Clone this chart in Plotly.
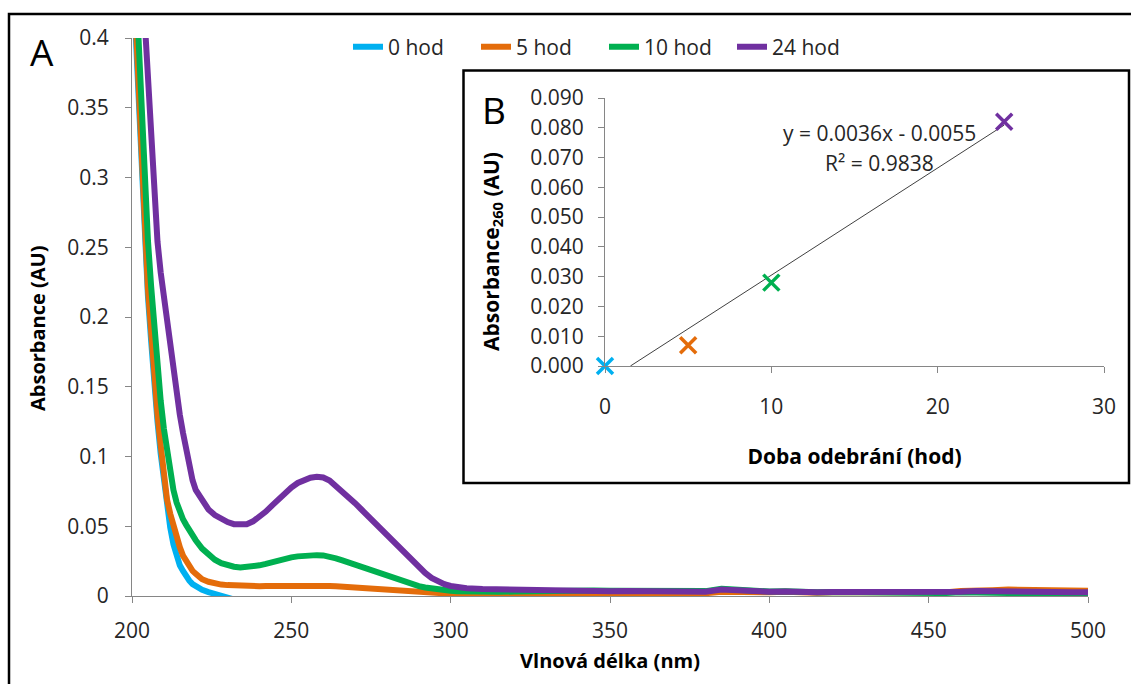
import plotly.graph_objects as go

# ---------------- data ----------------
WAVELENGTH = [
    200, 201, 202, 203, 204, 205, 206, 207, 208, 209,
    210, 211, 212, 213, 214, 215, 216, 217, 218, 219,
    220, 222, 224, 226, 228, 230, 232, 234, 236, 238,
    240, 242, 244, 246, 248, 250, 252, 254, 256, 258,
    260, 262, 264, 266, 268, 270, 272, 274, 276, 278,
    280, 282, 284, 286, 288, 290, 292, 294, 296, 298,
    300, 302, 305, 310, 315, 320, 325, 330, 335, 340,
    345, 350, 355, 360, 365, 370, 375, 380, 385, 390,
    395, 400, 405, 410, 415, 420, 425, 430, 435, 440,
    445, 450, 455, 460, 465, 470, 475, 480, 485, 490,
    495, 500,
]

ABS_0H = [
    0.46, 0.41, 0.35, 0.295, 0.255, 0.215, 0.183, 0.150, 0.125, 0.102,
    0.082, 0.064, 0.049, 0.037, 0.028, 0.022, 0.018, 0.014, 0.011, 0.0085,
    0.0068, 0.0045, 0.0028, 0.0012, -0.0003, -0.0015, -0.0025, -0.0032, -0.0035, -0.0036,
    -0.0036, -0.0035, -0.0036, -0.0037, -0.0036, -0.0035, -0.0036, -0.0036, -0.0035, -0.0036,
    -0.0036, -0.0037, -0.0035, -0.0036, -0.0037, -0.0036, -0.0035, -0.0036, -0.0037, -0.0036,
    -0.0036, -0.0037, -0.0035, -0.0036, -0.0037, -0.0036, -0.0035, -0.0036, -0.0037, -0.0036,
    -0.0036, -0.0037, -0.0035, -0.0036, -0.0037, -0.0036, -0.0035, -0.0036, -0.0037, -0.0036,
    -0.0036, -0.0037, -0.0035, -0.0036, -0.0037, -0.0036, -0.0035, -0.0036, -0.0037, -0.0036,
    -0.0036, -0.0037, -0.0035, -0.0036, -0.0037, -0.0036, -0.0035, -0.0036, -0.0037, -0.0036,
    -0.0036, -0.0037, -0.0035, -0.0036, -0.0037, -0.0036, -0.0035, -0.0036, -0.0037, -0.0036,
    -0.0036, -0.0036,
]

ABS_5H = [
    0.47, 0.42, 0.35, 0.30, 0.26, 0.22, 0.19, 0.155, 0.13, 0.108,
    0.084, 0.069, 0.059, 0.050, 0.042, 0.035, 0.029, 0.025, 0.021, 0.018,
    0.016, 0.012, 0.0102, 0.009, 0.0082, 0.0078, 0.0075, 0.0073, 0.0071, 0.0070,
    0.0070, 0.0071, 0.0072, 0.0073, 0.0074, 0.0075, 0.0075, 0.0076, 0.0076, 0.0075,
    0.0074, 0.0072, 0.0070, 0.0067, 0.0064, 0.0060, 0.0056, 0.0052, 0.0048, 0.0044,
    0.0040, 0.0036, 0.0032, 0.0029, 0.0026, 0.0023, 0.0020, 0.0018, 0.0016, 0.0015,
    0.0014, 0.0013, 0.0012, 0.0012, 0.0013, 0.0015, 0.0012, 0.0014, 0.0016, 0.0018,
    0.0017, 0.0020, 0.0019, 0.0021, 0.0018, 0.0022, 0.0024, 0.0020, 0.0030, 0.0027,
    0.0025, 0.0026, 0.0030, 0.0024, 0.0023, 0.0026, 0.0025, 0.0024, 0.0028, 0.0027,
    0.0028, 0.0030, 0.0026, 0.0036, 0.0044, 0.0042, 0.0046, 0.0044, 0.0042, 0.0046,
    0.0040, 0.0038,
]

ABS_10H = [
    0.50, 0.45, 0.40, 0.35, 0.29, 0.255, 0.222, 0.19, 0.164, 0.14,
    0.12, 0.103, 0.088, 0.076, 0.067, 0.060, 0.055, 0.051, 0.047, 0.043,
    0.040, 0.034, 0.0295, 0.026, 0.0235, 0.022, 0.021, 0.0205, 0.0207, 0.0213,
    0.022, 0.023, 0.0243, 0.0255, 0.0267, 0.0277, 0.0284, 0.0289, 0.0292, 0.0293,
    0.0291, 0.0285, 0.027, 0.0255, 0.024, 0.0222, 0.0205, 0.0188, 0.0172, 0.0157,
    0.0140, 0.0124, 0.0109, 0.0095, 0.0082, 0.0071, 0.0061, 0.0053, 0.0046, 0.0041,
    0.0037, 0.0034, 0.0031, 0.0029, 0.0030, 0.0032, 0.0035, 0.0036, 0.0037, 0.0038,
    0.0039, 0.0038, 0.0037, 0.0039, 0.0036, 0.0038, 0.0040, 0.0035, 0.0052, 0.0042,
    0.0036, 0.0032, 0.0034, 0.0028, 0.0027, 0.0029, 0.0027, 0.0026, 0.0028, 0.0026,
    0.0024, 0.0027, 0.0021, 0.0026, 0.0028, 0.0024, 0.0022, 0.0020, 0.0022, 0.0021,
    0.0018, 0.0017,
]

ABS_24H = [
    0.57, 0.53, 0.49, 0.45, 0.41, 0.373, 0.335, 0.29, 0.254, 0.232,
    0.215, 0.198, 0.179, 0.159, 0.143, 0.130, 0.117, 0.104, 0.093, 0.083,
    0.076, 0.068, 0.062, 0.058, 0.055, 0.053, 0.0515, 0.051, 0.0515, 0.0535,
    0.0565, 0.0605, 0.065, 0.0695, 0.074, 0.0777, 0.081, 0.0832, 0.0848, 0.0855,
    0.085, 0.0828, 0.079, 0.075, 0.0705, 0.0665, 0.062, 0.0575, 0.053, 0.0485,
    0.044, 0.0395, 0.0345, 0.0295, 0.025, 0.0205, 0.0165, 0.013, 0.0105, 0.0085,
    0.0072, 0.0063, 0.0056, 0.0050, 0.0047, 0.0044, 0.0042, 0.0043, 0.0039, 0.0037,
    0.0038, 0.0034, 0.0036, 0.0035, 0.0032, 0.0034, 0.0037, 0.0031, 0.0046, 0.0038,
    0.0034, 0.0030, 0.0033, 0.0027, 0.0026, 0.0028, 0.0027, 0.0026, 0.0029, 0.0027,
    0.0026, 0.0029, 0.0023, 0.0030, 0.0036, 0.0033, 0.0032, 0.0028, 0.0031, 0.0030,
    0.0027, 0.0026,
]

SERIES_NAMES = ["0 hod", "5 hod", "10 hod", "24 hod"]

# inset B
SAMPLING_TIME = [0, 5, 10, 24]
ABS_260 = [0.000, 0.007, 0.028, 0.082]
FIT_SLOPE = 0.0036
FIT_INTERCEPT = -0.0055
FIT_R2 = 0.9838

MAIN_X_TICKS = [200, 250, 300, 350, 400, 450, 500]
MAIN_Y_TICKS = [0, 0.05, 0.1, 0.15, 0.2, 0.25, 0.3, 0.35, 0.4]
INSET_X_TICKS = [0, 10, 20, 30]
INSET_Y_TICKS = [0.0, 0.01, 0.02, 0.03, 0.04, 0.05, 0.06, 0.07, 0.08, 0.09]

# ---------------- styling ----------------
COLORS = ["#00B0F0", "#E46C0A", "#00B050", "#7030A0"]
FONT = "Open Sans"
TICK_COLOR = "#262626"
AXIS_GRAY = "#868686"

FIG_W, FIG_H = 1131, 684
M_L, M_R, M_T, M_B = 132, 20, 38, 88
PW = FIG_W - M_L - M_R
PH = FIG_H - M_T - M_B


def px_x(px):
    return (px - M_L) / PW


def px_y(py):
    return (FIG_H - M_B - py) / PH


fig = go.Figure()

series = [ABS_0H, ABS_5H, ABS_10H, ABS_24H]
for name, vals, col in zip(SERIES_NAMES, series, COLORS):
    fig.add_trace(go.Scatter(
        x=WAVELENGTH, y=vals, name=name, mode="lines",
        line=dict(color=col, width=6),
        xaxis="x", yaxis="y",
    ))

# inset: trendline from the regression coefficients
x_start = -FIT_INTERCEPT / FIT_SLOPE
x_end = max(SAMPLING_TIME)
fig.add_trace(go.Scatter(
    x=[x_start, x_end],
    y=[FIT_SLOPE * x_start + FIT_INTERCEPT, FIT_SLOPE * x_end + FIT_INTERCEPT],
    mode="lines", line=dict(color="#404040", width=1),
    showlegend=False, xaxis="x2", yaxis="y2", hoverinfo="skip",
))
fig.add_trace(go.Scatter(
    x=SAMPLING_TIME, y=ABS_260, mode="markers",
    marker=dict(symbol="x-thin", size=16, color=COLORS,
                line=dict(color=COLORS, width=3.5)),
    showlegend=False, xaxis="x2", yaxis="y2", cliponaxis=False,
))

axis_common = dict(
    showline=True, linecolor=AXIS_GRAY, linewidth=1,
    ticks="outside", tickcolor=AXIS_GRAY, ticklen=6, tickwidth=1,
    showgrid=False, zeroline=False,
    tickfont=dict(family=FONT, size=21, color=TICK_COLOR),
)
title_font = dict(family=FONT, size=20, color="#000000", weight="bold")
inset_title_font = dict(family=FONT, size=21, color="#000000", weight="bold")

fig.update_layout(
    width=FIG_W, height=FIG_H,
    margin=dict(l=M_L, r=M_R, t=M_T, b=M_B, autoexpand=False),
    paper_bgcolor="white", plot_bgcolor="white",
    font=dict(family=FONT, size=21, color=TICK_COLOR),
    xaxis=dict(
        **axis_common, domain=[0, px_x(1088)], range=[200, 500],
        tickvals=MAIN_X_TICKS, anchor="y", ticklabelstandoff=10,
        title=dict(text="Vlnová délka (nm)", font=title_font, standoff=10),
    ),
    yaxis=dict(
        **axis_common, domain=[0, 1], range=[0, 0.4],
        tickvals=MAIN_Y_TICKS, anchor="x", ticklabelstandoff=12,
    ),
    xaxis2=dict(
        **axis_common, domain=[px_x(605), px_x(1104)], range=[0, 30],
        tickvals=INSET_X_TICKS, anchor="y2", ticklabelstandoff=16,
        title=dict(text="Doba odebrání (hod)", font=inset_title_font,
                   standoff=30),
    ),
    yaxis2=dict(
        **axis_common, domain=[px_y(366), px_y(98)], range=[0, 0.09],
        tickvals=INSET_Y_TICKS, tickformat=".3f", anchor="x2",
        ticklabelstandoff=10,
    ),
    legend=dict(
        orientation="h", x=px_x(348), xanchor="left",
        y=px_y(47), yanchor="middle",
        font=dict(family=FONT, size=21, color=TICK_COLOR),
        entrywidth=83, entrywidthmode="pixels",
        bgcolor="rgba(0,0,0,0)", borderwidth=0,
    ),
    shapes=[
        # outer frame
        dict(type="rect", xref="paper", yref="paper",
             x0=px_x(9), x1=px_x(1145), y0=px_y(700), y1=px_y(14),
             line=dict(color="black", width=2.5), fillcolor="rgba(0,0,0,0)",
             layer="above"),
        # inset frame
        dict(type="rect", xref="paper", yref="paper",
             x0=px_x(463.5), x1=px_x(1129), y0=px_y(483), y1=px_y(70.5),
             line=dict(color="black", width=2.5), fillcolor="rgba(0,0,0,0)",
             layer="above"),
    ],
    annotations=[
        # y-axis titles
        dict(text="Absorbance (AU)", xref="paper", yref="paper",
             x=px_x(37), y=px_y(328), textangle=-90,
             showarrow=False, xanchor="center", yanchor="middle",
             font=title_font),
        dict(text="Absorbance<sub>260</sub> (AU)", xref="paper", yref="paper",
             x=px_x(492), y=px_y(252), textangle=-90,
             showarrow=False, xanchor="center", yanchor="middle",
             font=inset_title_font),
        dict(text="A", xref="paper", yref="paper", x=px_x(42), y=px_y(51),
             showarrow=False, xanchor="center", yanchor="middle",
             font=dict(family=FONT, size=37, color="black")),
        dict(text="B", xref="paper", yref="paper", x=px_x(494), y=px_y(109),
             showarrow=False, xanchor="center", yanchor="middle",
             font=dict(family=FONT, size=37, color="black")),
        dict(text=f"y = {FIT_SLOPE:.4f}x - {abs(FIT_INTERCEPT):.4f}",
             xref="paper", yref="paper", x=px_x(879), y=px_y(133),
             showarrow=False, xanchor="center", yanchor="middle",
             font=dict(family=FONT, size=21, color=TICK_COLOR)),
        dict(text=f"R² = {FIT_R2:.4f}",
             xref="paper", yref="paper", x=px_x(879), y=px_y(163),
             showarrow=False, xanchor="center", yanchor="middle",
             font=dict(family=FONT, size=21, color=TICK_COLOR)),
    ],
)

fig.write_html("out.html")
